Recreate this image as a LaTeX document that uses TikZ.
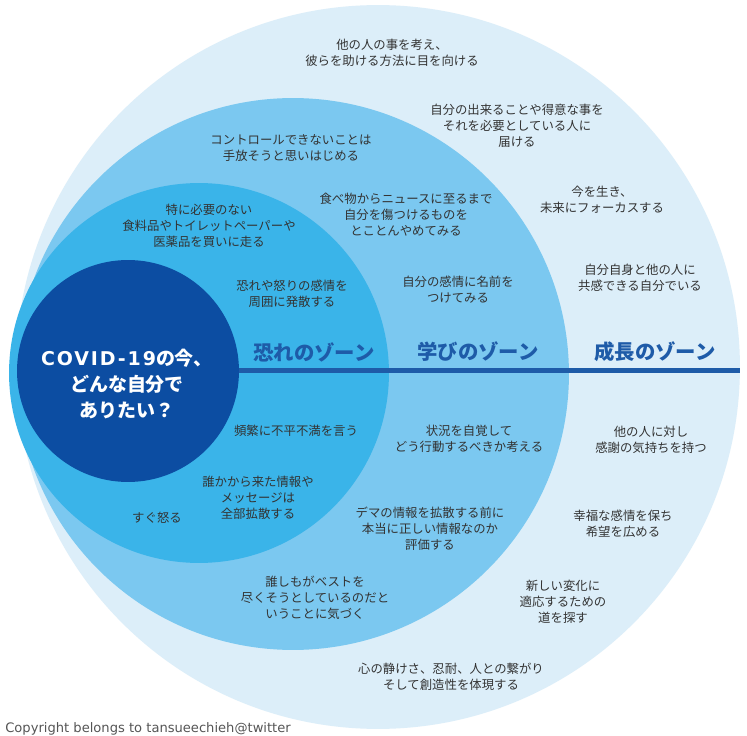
\documentclass[tikz,border=0pt]{standalone}
\usepackage{fontspec}
\setmainfont{Noto Sans CJK JP}
\newfontfamily\creditfont{DejaVu Sans}

\definecolor{coreblue}{HTML}{0C4DA2}
\definecolor{fearblue}{HTML}{3AB4E9}
\definecolor{learnblue}{HTML}{7BC8F0}
\definecolor{growblue}{HTML}{DCEEF9}
\definecolor{zonetext}{HTML}{1E5BA8}
\definecolor{bodytext}{HTML}{333333}
\definecolor{credittext}{HTML}{555555}

\tikzset{
  zone/.style={circle,inner sep=0pt,draw=none},
  note/.style={align=center,text=bodytext,inner sep=0pt,font=\fontsize{7.05}{9.1}\selectfont},
  zonelabel/.style={text=zonetext,inner sep=0pt,font=\fontsize{11.6}{13}\selectfont\bfseries},
}

\begin{document}
\begin{tikzpicture}[x=0.02cm,y=-0.02cm]

\useasboundingbox[fill=white] (0,0) rectangle (747,736);

%---------------------------------------------------------------
\node at(378,367) [zone,fill=growblue,minimum size=14.48cm] (growth) {};
\node at(293,374) [zone,fill=learnblue,minimum size=11.04cm] (learn) {};
\node at(199,373) [zone,fill=fearblue,minimum size=7.6cm] (fear) {};
\node at(128,371) [zone,fill=coreblue,minimum size=4.44cm] (core) {};

\coordinate (lineend) at (740,371);
\draw [line width=.1cm,draw=zonetext] (core.east) -- (lineend);

\node at(127,384) [align=center,text=white,inner sep=0pt,font=\fontsize{10.8}{14.7}\selectfont\bfseries] (question) {{\creditfont\addfontfeature{LetterSpace=10}COVID-19}の今、\\どんな自分で\\ありたい？};

%---------------------------------------------------------------
\node at(314,352) [zonelabel] (fearlbl) {恐れのゾーン};
\node at(478,352) [zonelabel] (learnlbl) {学びのゾーン};
\node at(655,352) [zonelabel] (growlbl) {成長のゾーン};

%------------------------------------------------------
% fear zone
\node at(209,226) [note] (hoard) {特に必要のない\\食料品やトイレットペーパーや\\医薬品を買いに走る};
\node at(292,294) [note] (vent) {恐れや怒りの感情を\\周囲に発散する};
\node at(296,431) [note] (complain) {頻繁に不平不満を言う};
\node at(258,498) [note] (forward) {誰かから来た情報や\\メッセージは\\全部拡散する};
\node at(157,518) [note] (angry) {すぐ怒る};

%------------------------------------------------------
% learning zone
\node at(291,148) [note] (letgo) {コントロールできないことは\\手放そうと思いはじめる};
\node at(406,215) [note] (stopharm) {食べ物からニュースに至るまで\\自分を傷つけるものを\\とことんやめてみる};
\node at(458,290) [note] (naming) {自分の感情に名前を\\つけてみる};
\node at(469,439) [note] (aware) {状況を自覚して\\どう行動するべきか考える};
\node at(430,529) [note] (verify) {デマの情報を拡散する前に\\本当に正しい情報なのか\\評価する};
\node at(315,598) [note] (best) {誰しもがベストを\\尽くそうとしているのだと\\いうことに気づく};

%------------------------------------------------------
% growth zone
\node at(392,53) [note] (helping) {他の人の事を考え、\\彼らを助ける方法に目を向ける};
\node at(517,126) [note] (deliver) {自分の出来ることや得意な事を\\それを必要としている人に\\届ける};
\node at(602,200) [note] (present) {今を生き、\\未来にフォーカスする};
\node at(640,278) [note] (empathy) {自分自身と他の人に\\共感できる自分でいる};
\node at(651,440) [note] (thanks) {他の人に対し\\感謝の気持ちを持つ};
\node at(623,524) [note] (hope) {幸福な感情を保ち\\希望を広める};
\node at(563,602) [note] (adapt) {新しい変化に\\適応するための\\道を探す};
\node at(451,677) [note] (calm) {心の静けさ、忍耐、人との繋がり\\そして創造性を体現する};

%----------------------------------------------------
\node at(5,729) [anchor=west,inner sep=0pt,text=credittext,font=\creditfont\fontsize{7.45}{9}\selectfont] (credit) {Copyright belongs to tansueechieh@twitter};

\end{tikzpicture}
\end{document}
